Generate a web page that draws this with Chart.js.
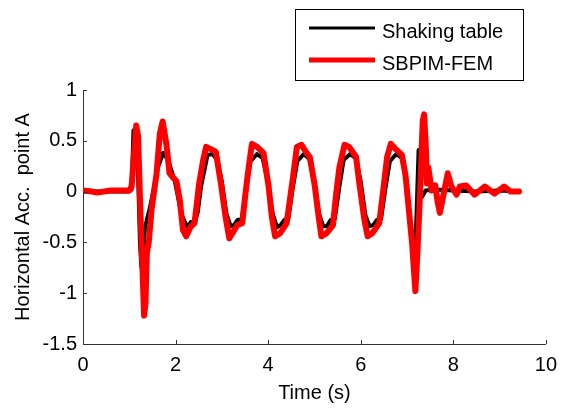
<!DOCTYPE html>
<html>
<head>
<meta charset="utf-8">
<script src="https://cdn.jsdelivr.net/npm/chart.js@4.4.1/dist/chart.umd.min.js"></script>
<style>
  html, body { margin: 0; padding: 0; background: #fff; }
</style>
</head>
<body>
<canvas id="chart" width="566" height="410"></canvas>
<script>
// Shaking table record (black)
const tableTime = [
  0, 0.5, 1.0, 1.05, 1.09, 1.13, 1.17, 1.2, 1.23, 1.26,
  1.3, 1.34, 1.45, 1.55, 1.62, 1.73, 1.84, 1.98, 2.12, 2.2,
  2.26, 2.33, 2.41, 2.48, 2.55, 2.69, 2.8, 2.9, 3.0, 3.1,
  3.19, 3.26, 3.34, 3.43, 3.52, 3.62, 3.76, 3.88, 3.99, 4.1,
  4.19, 4.27, 4.35, 4.44, 4.53, 4.63, 4.77, 4.89, 5.0, 5.1,
  5.19, 5.27, 5.35, 5.44, 5.53, 5.63, 5.77, 5.89, 6.0, 6.1,
  6.19, 6.27, 6.35, 6.44, 6.53, 6.63, 6.77, 6.89, 6.98, 7.06,
  7.12, 7.17, 7.2, 7.25, 7.29, 7.33, 7.4, 7.6, 8.0, 8.5,
  9.0, 9.42
];
const tableAcc = [
  0, 0, 0, 0.02, 0.6, 0.62, 0.45, 0.0, -0.5, -0.74,
  -0.6, -0.35, -0.15, 0.08, 0.24, 0.38, 0.31, 0.11, -0.21, -0.3,
  -0.35, -0.3, -0.31, -0.2, 0.05, 0.36, 0.37, 0.31, 0.1, -0.22,
  -0.34, -0.33, -0.28, -0.27, 0.02, 0.3, 0.37, 0.33, 0.1, -0.22,
  -0.35, -0.33, -0.28, -0.26, 0.03, 0.3, 0.37, 0.32, 0.1, -0.22,
  -0.34, -0.34, -0.28, -0.27, 0.02, 0.31, 0.37, 0.33, 0.1, -0.23,
  -0.34, -0.33, -0.28, -0.27, 0.02, 0.3, 0.37, 0.33, 0.12, -0.25,
  -0.45, -0.6, -0.3, 0.41, 0.05, -0.05, 0.01, 0.02, 0.01, 0.0,
  0.01, 0.0
];

// SBPIM-FEM result (red)
const modelTime = [
  0, 0.2, 0.3, 0.6, 1.0, 1.05, 1.1, 1.15, 1.19, 1.24,
  1.28, 1.32, 1.35, 1.38, 1.42, 1.48, 1.59, 1.66, 1.72, 1.8,
  1.87, 2.02, 2.09, 2.16, 2.23, 2.32, 2.41, 2.51, 2.6, 2.66,
  2.75, 2.87, 2.98, 3.08, 3.16, 3.23, 3.33, 3.44, 3.51, 3.58,
  3.65, 3.76, 3.9, 4.01, 4.08, 4.15, 4.26, 4.4, 4.47, 4.54,
  4.62, 4.72, 4.83, 4.9, 5.01, 5.08, 5.15, 5.26, 5.4, 5.47,
  5.54, 5.65, 5.75, 5.9, 5.97, 6.08, 6.15, 6.25, 6.4, 6.47,
  6.57, 6.65, 6.75, 6.89, 6.97, 7.04, 7.11, 7.18, 7.21, 7.25,
  7.29, 7.34, 7.37, 7.41, 7.43, 7.46, 7.53, 7.61, 7.66, 7.71,
  7.78, 7.88, 7.96, 8.07, 8.14, 8.28, 8.46, 8.68, 8.89, 9.1,
  9.24, 9.42
];
const modelAcc = [
  0.01, 0.0, -0.01, 0.01, 0.01, 0.05, 0.35, 0.65, 0.55, -0.2,
  -0.7, -1.22, -1.1, -0.6, -0.5, -0.18, 0.18, 0.57, 0.69, 0.47,
  0.18, 0.1, -0.08, -0.38, -0.44, -0.35, -0.31, 0.08, 0.32, 0.44,
  0.42, 0.39, 0.08, -0.25, -0.46, -0.41, -0.33, -0.31, -0.02, 0.24,
  0.47, 0.44, 0.38, 0.05, -0.25, -0.44, -0.41, -0.31, -0.08, 0.15,
  0.44, 0.46, 0.38, 0.34, 0.05, -0.21, -0.44, -0.41, -0.33, -0.02,
  0.24, 0.46, 0.44, 0.34, 0.08, -0.28, -0.44, -0.41, -0.31, -0.05,
  0.34, 0.47, 0.42, 0.36, 0.15, -0.18, -0.51, -0.98, -0.74, -0.35,
  0.08, 0.70, 0.76, 0.41, 0.08, 0.24, 0.01, 0.06, -0.1, -0.21,
  -0.05, 0.18, 0.05, -0.03, 0.05, 0.06, -0.03, 0.05, -0.02, 0.05,
  0.0, 0.0
];

const seriesNames = ['Shaking table', 'SBPIM-FEM'];
const FONT = '"Liberation Sans", Arial, sans-serif';

function toPoints(ts, vs) {
  return ts.map((t, i) => ({ x: t, y: vs[i] }));
}

// legend drawn as a boxed list in the upper right, like the original figure
const boxLegend = {
  id: 'boxLegend',
  afterDraw(chart) {
    const ctx = chart.ctx;
    ctx.save();
    ctx.fillStyle = '#fff';
    ctx.fillRect(295.5, 9.5, 228, 71);
    ctx.strokeStyle = '#000';
    ctx.lineWidth = 1;
    ctx.strokeRect(295.5, 9.5, 228, 71);
    chart.data.datasets.forEach((ds, i) => {
      const y = 28 + i * 32;
      ctx.strokeStyle = ds.borderColor;
      ctx.lineWidth = i === 0 ? 3 : 5;
      ctx.beginPath();
      ctx.moveTo(309, y);
      ctx.lineTo(375, y);
      ctx.stroke();
      ctx.fillStyle = '#000';
      ctx.font = '20px ' + FONT;
      ctx.textBaseline = 'alphabetic';
      ctx.fillText(ds.label, 382, y + 10);
    });
    ctx.restore();
  }
};

// matlab style tick marks pointing into the plot
const inwardTicks = {
  id: 'inwardTicks',
  afterDatasetsDraw(chart) {
    const { ctx, chartArea, scales } = chart;
    ctx.save();
    ctx.strokeStyle = '#333';
    ctx.lineWidth = 1;
    ctx.beginPath();
    scales.x.ticks.forEach(t => {
      const x = Math.round(scales.x.getPixelForValue(t.value)) + 0.5;
      ctx.moveTo(x, chartArea.bottom);
      ctx.lineTo(x, chartArea.bottom - 4);
    });
    scales.y.ticks.forEach(t => {
      const y = Math.round(scales.y.getPixelForValue(t.value)) + 0.5;
      ctx.moveTo(chartArea.left, y);
      ctx.lineTo(chartArea.left + 4, y);
    });
    ctx.stroke();
    ctx.restore();
  }
};

const ctx = document.getElementById('chart').getContext('2d');
const chart = new Chart(ctx, {
  type: 'line',
  data: {
    datasets: [
      {
        label: seriesNames[0],
        data: toPoints(tableTime, tableAcc),
        borderColor: '#000000',
        borderWidth: 4,
        order: 1
      },
      {
        label: seriesNames[1],
        data: toPoints(modelTime, modelAcc),
        borderColor: '#ff0000',
        borderWidth: 6,
        order: 0
      }
    ]
  },
  options: {
    responsive: false,
    animation: false,
    parsing: false,
    elements: {
      point: { radius: 0 },
      line: { tension: 0, borderJoinStyle: 'round', borderCapStyle: 'round', fill: false }
    },
    layout: { padding: { top: 90, right: 14, left: 0, bottom: 0 } },
    plugins: {
      legend: { display: false },
      tooltip: { enabled: false }
    },
    scales: {
      x: {
        type: 'linear',
        min: 0,
        max: 10,
        afterFit: s => { s.height = 66; },
        ticks: { stepSize: 2, color: '#000', padding: 9, font: { family: FONT, size: 20 } },
        grid: { display: true, drawOnChartArea: false, drawTicks: false },
        border: { display: true, color: '#333', width: 1 },
        title: { display: true, text: 'Time (s)', color: '#000', font: { family: FONT, size: 20 }, padding: { top: 0, bottom: 5 } }
      },
      y: {
        min: -1.5,
        max: 1,
        afterFit: s => { s.width = 83; },
        ticks: { stepSize: 0.5, color: '#000', padding: 6, font: { family: FONT, size: 20 }, callback: v => String(v) },
        grid: { display: true, drawOnChartArea: false, drawTicks: false },
        border: { display: true, color: '#333', width: 1 },
        title: { display: true, text: 'Horizontal Acc.  point A', color: '#000', font: { family: FONT, size: 20 }, padding: { top: 11, bottom: 0 } }
      }
    }
  },
  plugins: [inwardTicks, boxLegend]
});
</script>
</body>
</html>
